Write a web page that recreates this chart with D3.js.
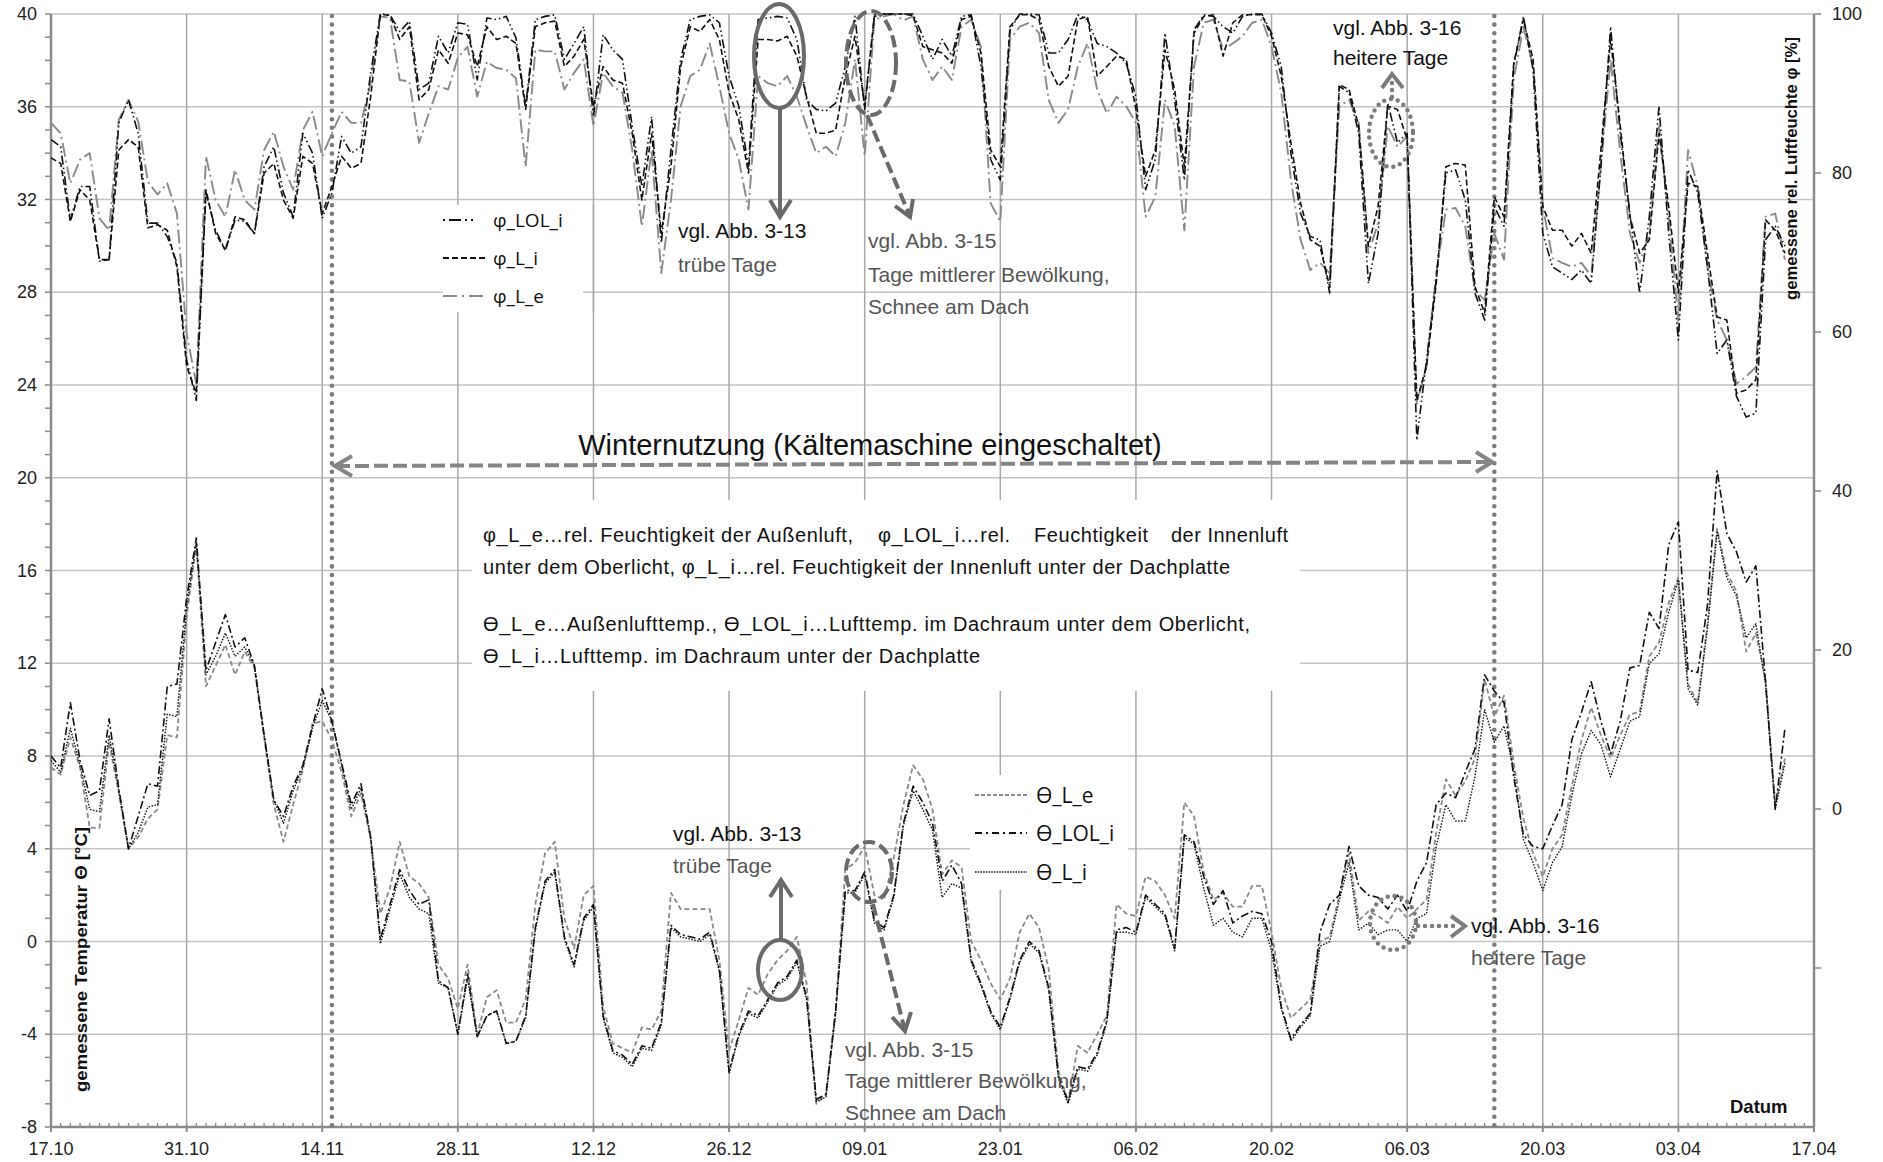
<!DOCTYPE html>
<html><head><meta charset="utf-8">
<script src="https://cdn.jsdelivr.net/npm/d3@7"></script>
<style>
html,body{margin:0;padding:0;background:#fff;}
svg{display:block;font-family:"Liberation Sans",Arial,sans-serif;}
</style></head><body>
<svg id="chart" width="1883" height="1162"></svg>
<script>
// ---------- DATA ----------
const startDate = Date.UTC(2010, 9, 17);   // 17.10
const endDate = Date.UTC(2011, 3, 17);     // 17.04
const xTickLabels = ["17.10","31.10","14.11","28.11","12.12","26.12","09.01","23.01","06.02","20.02","06.03","20.03","03.04","17.04"];
const leftTicks = [-8,-4,0,4,8,12,16,20,24,28,32,36,40];
const rightTicks = [0,20,40,60,80,100];

// Temperatures [°C], one value per day from 17.10
const tLOL = [8.0,7.5,10.3,7.8,6.3,6.5,9.6,6.6,4.0,5.4,6.8,6.7,11.0,11.1,14.8,17.4,11.7,12.9,14.1,12.7,
13.1,11.9,8.9,6.1,5.4,6.7,7.6,9.3,10.9,9.5,7.7,5.9,6.8,4.5,0.1,1.6,3.1,2.2,1.6,1.8,
-1.7,-2.0,-4.0,-1.4,-4.1,-3.2,-3.0,-4.4,-4.3,-3.2,0.6,2.6,3.1,0.2,-1.0,1.0,1.6,-3.2,-4.7,-4.9,
-5.3,-4.5,-4.6,-3.5,0.7,0.3,0.2,0.1,0.4,-1.2,-5.6,-4.0,-3.0,-3.2,-2.5,-1.8,-1.5,-0.8,-2.4,-6.8,
-6.6,-3.0,2.2,2.2,3.0,0.9,0.6,2.0,5.1,6.7,6.0,5.1,2.6,3.3,2.5,-0.8,-1.8,-3.0,-3.7,-2.4,
-0.8,0.0,-0.4,-2.0,-5.8,-6.9,-5.4,-5.5,-4.8,-3.4,0.5,0.6,0.4,2.0,1.6,1.2,-0.3,4.6,4.3,2.8,
1.6,2.2,0.8,1.1,1.3,1.2,0.0,-2.8,-4.2,-3.6,-3.1,0.4,1.6,2.0,4.1,2.4,2.0,1.9,1.4,2.0,
1.3,2.6,3.4,5.9,6.4,6.2,7.3,8.3,11.5,10.8,10.3,7.1,4.6,4.1,4.0,5.0,5.9,8.7,9.9,11.2,
9.5,8.1,9.5,11.8,11.9,14.2,13.5,17.1,18.1,11.7,11.6,14.5,20.3,17.6,16.8,15.5,16.2,11.2,5.7,9.2];
const tLi = [7.8,7.3,9.2,7.6,5.7,5.6,8.9,6.5,4.0,4.7,5.8,5.9,9.8,9.7,14.4,17.2,11.5,12.3,13.3,12.3,
12.7,11.9,8.9,6.1,5.1,6.5,7.5,9.2,10.4,9.5,7.6,5.7,6.6,4.5,-0.1,1.4,2.9,1.9,1.4,1.2,
-1.8,-2.0,-4.0,-1.6,-4.1,-3.2,-3.0,-4.4,-4.3,-3.3,0.5,2.5,3.0,0.1,-1.1,0.9,1.5,-3.3,-4.8,-5.0,
-5.4,-4.6,-4.7,-3.6,0.6,0.2,0.1,0.0,0.3,-1.3,-5.7,-4.1,-3.1,-3.3,-2.6,-1.9,-1.6,-0.9,-2.5,-6.9,
-6.7,-3.1,2.1,2.1,2.9,0.8,0.5,1.9,5.0,6.5,5.7,4.8,1.9,2.5,2.3,-0.9,-1.9,-3.1,-3.8,-2.5,
-0.9,-0.1,-0.5,-2.1,-5.9,-7.0,-5.5,-5.6,-4.9,-3.5,0.4,0.4,0.3,1.9,1.5,1.1,-0.4,4.5,4.2,2.3,
0.7,1.0,0.4,0.2,1.0,1.0,-0.4,-2.9,-4.3,-3.7,-3.2,-0.2,0.0,1.8,3.4,0.5,0.8,0.3,0.5,0.5,
0.0,1.0,1.2,4.1,5.9,5.2,5.2,7.1,10.0,8.6,9.3,7.4,4.4,3.4,2.2,3.4,4.1,6.3,8.1,9.1,
8.5,7.1,8.3,9.5,9.7,12.0,12.4,14.2,15.6,10.9,10.2,13.5,17.7,15.7,14.9,13.1,13.7,11.1,5.7,7.7];
const tLe = [7.5,7.2,8.8,7.5,4.9,4.9,8.6,6.4,4.0,4.5,5.3,5.7,8.9,8.8,14.0,17.1,11.0,11.9,12.8,11.5,
12.5,11.8,8.8,5.9,4.3,5.9,7.4,9.4,9.5,8.7,7.3,5.4,6.4,4.4,1.2,2.3,4.3,2.8,2.5,1.9,
-1.0,-1.6,-2.9,-1.0,-4.0,-2.4,-2.1,-3.5,-3.5,-2.5,1.6,3.8,4.3,1.0,-0.3,2.0,2.4,-2.8,-4.4,-4.6,
-4.8,-3.7,-3.8,-3.0,2.1,1.4,1.4,1.4,1.4,-0.8,-4.7,-3.4,-2.0,-2.3,-1.4,-0.8,-0.4,0.2,-1.8,-7.0,
-6.6,-3.0,3.1,3.4,4.1,2.0,1.8,3.6,5.9,7.6,7.0,5.7,2.9,3.5,3.2,0.0,-0.8,-1.8,-2.5,-1.6,
0.4,1.2,0.6,-1.2,-5.6,-6.9,-4.5,-4.8,-4.0,-3.2,1.6,1.2,1.1,2.8,2.6,2.0,1.0,6.0,5.4,3.0,
1.8,2.1,1.5,1.5,2.4,2.4,0.4,-2.0,-3.3,-2.9,-2.5,0.0,0.2,2.0,3.8,0.9,1.3,1.1,0.8,1.5,
1.0,1.4,1.8,4.7,7.0,6.3,6.9,7.9,11.3,9.7,10.6,7.7,5.3,3.8,2.8,4.0,4.6,6.7,8.7,10.1,
8.9,7.9,8.9,9.8,9.9,12.3,12.9,14.6,15.7,11.1,10.3,13.7,17.8,15.9,15.1,12.5,13.3,11.3,5.9,7.9];

// Relative humidity [%], one value per day from 17.10
const hLOL = [84.2,83.3,74.1,78.3,78.3,68.9,69.1,86.3,89.2,85.0,73.7,73.7,72.0,68.7,56.5,51.4,77.5,72.8,70.3,74.1,
73.9,72.4,80.8,83.3,77.5,74.5,85.0,82.5,74.3,77.5,84.6,82.5,83.3,92.6,100,99.9,97.8,99.1,90.5,91.3,
97.2,95.1,98.9,98.7,91.7,99.5,99.3,99.7,97.0,88.4,99.3,99.7,99.9,94.3,96.3,98.4,87.1,97.4,95.5,94.3,
85.9,78.3,87.1,71.2,82.9,94.3,99.3,99.7,99.9,98.9,92.2,88.4,80.8,99.3,99.5,99.7,99.5,96.8,89.2,88.0,
87.8,88.8,93.4,99.7,88.0,99.9,100,100,100,100,97.2,94.3,96.8,94.7,99.7,99.9,93.4,81.7,79.1,98.0,
100,100,99.9,95.1,95.1,96.8,99.9,99.3,96.3,95.9,95.1,93.8,89.6,77.9,81.7,97.6,89.2,79.1,98.0,99.9,
99.7,98.4,97.6,99.7,100,100,97.6,93.4,82.5,74.9,72.0,71.6,64.9,90.9,90.1,85.0,66.1,72.4,88.8,83.8,
85.0,46.4,56.5,66.6,80.0,80.4,76.6,64.9,61.5,75.8,73.3,93.4,99.7,93.0,72.4,68.2,67.4,66.6,67.8,66.1,
80.8,98.4,85.0,74.9,64.9,74.5,88.4,72.4,59.0,80.4,77.5,68.2,57.3,59.0,51.9,49.3,49.8,71.6,73.3,70.8];
const hLi = [81.9,81.2,73.9,77.9,76.6,69.1,69.1,82.9,84.2,83.3,73.1,73.5,72.8,68.2,55.7,52.3,77.9,72.4,70.3,74.5,
74.1,72.4,80.0,81.2,76.6,74.3,82.1,81.2,74.9,78.3,82.1,80.6,81.2,89.6,100,99.8,96.8,98.4,89.2,90.5,
95.5,93.8,97.6,97.4,93.4,98.4,96.8,97.2,96.3,88.0,98.4,98.9,99.1,93.4,94.7,96.8,88.4,93.4,91.7,91.3,
85.0,76.6,85.0,72.4,80.8,93.4,98.4,97.8,99.3,96.8,90.1,86.7,80.0,96.8,96.8,96.6,97.2,94.7,89.6,85.0,
85.0,85.4,92.2,97.2,88.4,99.7,100,100,100,99.8,95.9,95.5,95.1,93.8,99.3,99.7,95.1,82.9,80.8,98.4,
99.9,99.9,99.3,93.4,90.9,92.2,99.3,99.7,92.2,93.4,94.7,94.3,88.0,79.6,82.9,95.5,90.5,80.8,97.6,99.7,
99.9,94.7,98.9,99.9,99.9,99.9,97.2,92.2,83.8,76.2,71.6,70.8,65.7,91.1,90.5,85.9,70.8,75.8,88.4,88.0,
84.2,51.4,55.7,66.1,80.8,81.2,81.0,65.7,62.4,77.0,74.5,93.8,99.3,94.3,75.8,72.8,72.8,70.8,72.4,69.9,
82.9,96.8,85.9,74.5,69.9,71.6,85.0,75.8,64.9,78.7,78.3,69.9,61.9,61.5,52.3,52.7,54.0,74.1,72.8,69.9];
const hLe = [86.3,85.0,78.7,81.7,82.5,74.3,72.8,86.7,89.2,86.5,78.9,77.3,78.7,74.9,59.8,53.5,82.1,76.6,74.5,80.4,
76.6,75.4,82.9,85.2,80.8,77.9,85.4,87.7,82.1,85.0,87.7,86.3,86.3,91.3,99.7,99.5,91.7,91.5,83.8,87.5,
90.9,90.5,94.5,95.9,89.6,94.0,93.2,93.0,91.9,80.8,95.5,95.3,95.3,90.5,92.6,94.3,85.9,92.6,90.9,90.1,
82.9,73.3,82.9,67.4,76.6,88.4,92.2,93.0,96.3,90.9,85.0,81.7,75.4,92.2,91.3,90.9,92.2,89.6,85.9,82.5,
83.3,82.1,86.3,94.3,82.1,99.3,99.7,100,99.2,99.7,94.3,91.7,93.4,91.7,98.4,99.3,95.9,76.2,73.9,96.8,
98.4,98.9,97.6,89.2,86.3,88.0,93.4,96.3,90.5,87.5,89.6,88.4,86.3,74.5,77.0,89.2,85.9,72.8,93.4,98.9,
99.3,95.5,96.3,97.2,98.9,99.3,95.9,90.1,79.1,71.6,67.8,68.7,67.4,88.4,89.2,86.3,69.9,73.7,85.9,83.3,
84.6,51.0,55.7,67.4,75.4,75.6,73.3,65.3,64.0,72.4,69.1,91.7,98.4,93.4,75.8,69.3,68.7,68.2,68.7,67.0,
80.8,94.3,82.5,72.4,68.7,72.4,85.9,74.5,61.5,82.9,78.3,68.2,61.5,59.0,53.5,54.4,55.6,74.5,74.9,69.1];

// ---------- LAYOUT ----------
const L = 51, R = 1814, T = 14, B = 1127;
const svg = d3.select("#chart");
const dayMs = 86400000;
const x = d3.scaleUtc().domain([new Date(startDate), new Date(endDate)]).range([L, R]);
const yT = d3.scaleLinear().domain([-8, 40]).range([B, T]);
const yH = d3.scaleLinear().domain([-40, 100]).range([B, T]);
const dateOf = i => new Date(startDate + i * dayMs);
const majorDates = xTickLabels.map((s, i) => new Date(startDate + i * 14 * dayMs));

// grid
const grid = svg.append("g");
grid.selectAll("line.h").data(leftTicks.filter(v => v > -8)).join("line")
  .attr("x1", L).attr("x2", R).attr("y1", d => yT(d)).attr("y2", d => yT(d))
  .attr("stroke", "#c4c4c4").attr("stroke-width", 1.3);
grid.selectAll("line.v").data(majorDates.slice(1, -1)).join("line")
  .attr("x1", d => x(d)).attr("x2", d => x(d)).attr("y1", T).attr("y2", B)
  .attr("stroke", "#a8a8a8").attr("stroke-width", 1.5);

// white boxes (text block, legends)
svg.append("rect").attr("x", 472).attr("y", 500).attr("width", 828).attr("height", 191).attr("fill", "#fff");
svg.append("rect").attr("x", 443).attr("y", 205).attr("width", 140).attr("height", 107).attr("fill", "#fff");
svg.append("rect").attr("x", 970).attr("y", 775).attr("width", 158).attr("height", 115).attr("fill", "#fff");
svg.append("line").attr("x1", x(majorDates[4])).attr("x2", x(majorDates[4])).attr("y1", 205).attr("y2", 312)
  .attr("stroke", "#a8a8a8").attr("stroke-width", 1.5);

// axes
const axCol = "#8a8a8a";
const ax = svg.append("g");
ax.append("line").attr("x1", L).attr("x2", L).attr("y1", T).attr("y2", B).attr("stroke", axCol).attr("stroke-width", 2.5);
ax.append("line").attr("x1", R).attr("x2", R).attr("y1", T).attr("y2", B).attr("stroke", axCol).attr("stroke-width", 2.5);
ax.append("line").attr("x1", L).attr("x2", R).attr("y1", B).attr("y2", B).attr("stroke", axCol).attr("stroke-width", 2.5);
ax.selectAll("line.lt").data(d3.range(-8, 41, 1)).join("line")
  .attr("x1", L - 6).attr("x2", L).attr("y1", d => yT(d)).attr("y2", d => yT(d))
  .attr("stroke", axCol).attr("stroke-width", 1.5);
ax.selectAll("text.ll").data(leftTicks).join("text")
  .attr("x", 37).attr("y", d => yT(d) + 6).attr("text-anchor", "end")
  .attr("font-size", 18).attr("fill", "#222").text(d => d);
ax.selectAll("line.bt").data(d3.range(0, 183)).join("line")
  .attr("x1", d => x(dateOf(d))).attr("x2", d => x(dateOf(d))).attr("y1", B - 4).attr("y2", B)
  .attr("stroke", axCol).attr("stroke-width", 1.3);
ax.selectAll("line.bm").data(majorDates).join("line")
  .attr("x1", d => x(d)).attr("x2", d => x(d)).attr("y1", B).attr("y2", B + 5)
  .attr("stroke", axCol).attr("stroke-width", 2);
ax.selectAll("text.bl").data(majorDates).join("text")
  .attr("x", d => x(d)).attr("y", 1155).attr("text-anchor", "middle")
  .attr("font-size", 18).attr("fill", "#222").text((d, i) => xTickLabels[i]);
ax.selectAll("line.rt").data([-20, 0, 20, 40, 60, 80, 100]).join("line")
  .attr("x1", R).attr("x2", R + 7).attr("y1", d => yH(d)).attr("y2", d => yH(d))
  .attr("stroke", axCol).attr("stroke-width", 1.5);
ax.selectAll("text.rl").data(rightTicks).join("text")
  .attr("x", 1832).attr("y", d => yH(d) + 6).attr("text-anchor", "start")
  .attr("font-size", 18).attr("fill", "#222").text(d => d);

// axis titles
svg.append("text").attr("transform", "translate(87,1092) rotate(-90)")
  .attr("font-size", 17).attr("font-weight", "bold").attr("fill", "#111")
  .attr("textLength", 265).attr("lengthAdjust", "spacingAndGlyphs")
  .text("gemessene Temperatur Θ [°C]");
svg.append("text").attr("transform", "translate(1797,300) rotate(-90)")
  .attr("font-size", 17).attr("font-weight", "bold").attr("fill", "#111")
  .attr("textLength", 263).attr("lengthAdjust", "spacingAndGlyphs")
  .text("gemessene rel. Luftfeuchte φ [%]");
svg.append("text").attr("x", 1730).attr("y", 1113).attr("font-size", 18.5).attr("font-weight", "bold")
  .attr("fill", "#111").text("Datum");

svg.append("clipPath").attr("id", "plotclip").append("rect")
  .attr("x", L).attr("y", T - 1).attr("width", R - L).attr("height", B - T + 1);

// vertical dotted markers
const annCol = "#858585";
[29, 149].forEach(d => {
  svg.append("line").attr("x1", x(dateOf(d))).attr("x2", x(dateOf(d))).attr("y1", T + 2).attr("y2", B)
    .attr("stroke", "#7c7c7c").attr("stroke-width", 4.6).attr("stroke-linecap", "round")
    .attr("stroke-dasharray", "0,8.6");
});

// series
const series = [
  {v: tLe, y: yT, col: "#8a8a8a", w: 1.8, dash: "5,3"},
  {v: tLi, y: yT, col: "#111", w: 1.4, dash: "1.5,1.5"},
  {v: tLOL, y: yT, col: "#111", w: 1.6, dash: "8,3,2,3"},
  {v: hLe, y: yH, col: "#8a8a8a", w: 1.9, dash: "14,4,2,4"},
  {v: hLi, y: yH, col: "#111", w: 1.6, dash: "6,3"},
  {v: hLOL, y: yH, col: "#111", w: 1.6, dash: "9,3,1.5,3,1.5,3"}
];
const lg = svg.append("g").attr("clip-path", "url(#plotclip)");
series.forEach(s => {
  const line = d3.line().x((d, i) => x(dateOf(i))).y(d => s.y(d));
  lg.append("path").datum(s.v).attr("d", line).attr("fill", "none")
    .attr("stroke", s.col).attr("stroke-width", s.w).attr("stroke-dasharray", s.dash)
    .attr("stroke-linejoin", "round");
});

// winter arrow
const wa = svg.append("g").attr("stroke", annCol).attr("fill", "none");
wa.append("line").attr("x1", 336).attr("y1", 466).attr("x2", 1490).attr("y2", 462)
  .attr("stroke-width", 4).attr("stroke-dasharray", "14,5");
wa.append("path").attr("d", "M352,456 L335,466 L352,476").attr("stroke-width", 4);
wa.append("path").attr("d", "M1476,452 L1492,462 L1476,472").attr("stroke-width", 4);
svg.append("text").attr("x", 870).attr("y", 455).attr("text-anchor", "middle")
  .attr("font-size", 29).attr("fill", "#111").text("Winternutzung (Kältemaschine eingeschaltet)");

// legends
const legTop = [
  {label: "φ_LOL_i", col: "#111", w: 1.8, dash: "2,4,12,4,2,4,2,20", y: 220},
  {label: "φ_L_i", col: "#111", w: 1.8, dash: "6,3", y: 258},
  {label: "φ_L_e", col: "#8a8a8a", w: 2, dash: "14,5,2,5", y: 296}
];
legTop.forEach(l => {
  svg.append("line").attr("x1", 443).attr("x2", 485).attr("y1", l.y).attr("y2", l.y)
    .attr("stroke", l.col).attr("stroke-width", l.w).attr("stroke-dasharray", l.dash);
  svg.append("text").attr("x", 493).attr("y", l.y + 7).attr("font-size", 19)
    .attr("font-family", "'Open Sans',sans-serif").attr("fill", "#111").text(l.label);
});
const legBot = [
  {label: "Ө_L_e", col: "#8a8a8a", w: 1.8, dash: "4,2", y: 795},
  {label: "Ө_LOL_i", col: "#111", w: 1.8, dash: "7,4,2,4", y: 833},
  {label: "Ө_L_i", col: "#111", w: 1.4, dash: "1.5,1.2", y: 872}
];
legBot.forEach(l => {
  svg.append("line").attr("x1", 975).attr("x2", 1027).attr("y1", l.y).attr("y2", l.y)
    .attr("stroke", l.col).attr("stroke-width", l.w).attr("stroke-dasharray", l.dash);
  svg.append("text").attr("x", 1036).attr("y", l.y + 8).attr("font-size", 21)
    .attr("font-family", "'Open Sans',sans-serif").attr("fill", "#111").text(l.label);
});

// description text
const desc = [
  {t: "φ_L_e…rel. Feuchtigkeit der Außenluft,", x: 483, y: 542, w: 370},
  {t: "φ_LOL_i…rel.", x: 878, y: 542, w: 132},
  {t: "Feuchtigkeit", x: 1034, y: 542, w: 114},
  {t: "der Innenluft", x: 1171, y: 542, w: 117},
  {t: "unter dem Oberlicht, φ_L_i…rel. Feuchtigkeit der Innenluft unter der Dachplatte", x: 483, y: 574, w: 747},
  {t: "Ө_L_e…Außenlufttemp., Ө_LOL_i…Lufttemp. im Dachraum unter dem Oberlicht,", x: 483, y: 631, w: 767},
  {t: "Ө_L_i…Lufttemp. im Dachraum unter der Dachplatte", x: 483, y: 663, w: 497}
];
desc.forEach(d => svg.append("text").attr("x", d.x).attr("y", d.y).attr("font-size", 20)
  .attr("fill", "#111").attr("textLength", d.w).attr("lengthAdjust", "spacing").text(d.t));

// annotations
const an = svg.append("g").attr("fill", "none").attr("stroke", "#6a6a6a").attr("stroke-width", 4);
function txt(s, xx, yy, col) {
  svg.append("text").attr("x", xx).attr("y", yy).attr("font-size", 21).attr("fill", col).text(s);
}
an.append("ellipse").attr("cx", 779).attr("cy", 56).attr("rx", 25).attr("ry", 52);
an.append("line").attr("x1", 780).attr("y1", 108).attr("x2", 780).attr("y2", 216);
an.append("path").attr("d", "M770,200 L780,217 L791,200");
txt("vgl. Abb. 3-13", 678, 238, "#111");
txt("trübe Tage", 678, 272, "#555");
an.append("ellipse").attr("cx", 871).attr("cy", 63).attr("rx", 25).attr("ry", 52).attr("stroke-dasharray", "12,5");
an.append("line").attr("x1", 867).attr("y1", 115).attr("x2", 909).attr("y2", 214).attr("stroke-dasharray", "12,5");
an.append("path").attr("d", "M895,206 L910,217 L913,199");
txt("vgl. Abb. 3-15", 868, 248, "#555");
txt("Tage mittlerer Bewölkung,", 868, 282, "#555");
txt("Schnee am Dach", 868, 314, "#555");
an.append("ellipse").attr("cx", 1391).attr("cy", 133).attr("rx", 22).attr("ry", 34)
  .attr("stroke-dasharray", "0,7").attr("stroke-linecap", "round").attr("stroke", "#7c7c7c").attr("stroke-width", 4.5);
an.append("line").attr("x1", 1392).attr("y1", 97).attr("x2", 1392).attr("y2", 76)
  .attr("stroke-dasharray", "0,7").attr("stroke-linecap", "round").attr("stroke", "#7c7c7c").attr("stroke-width", 4.5);
an.append("path").attr("d", "M1382,88 L1392,74 L1403,88").attr("stroke", "#7c7c7c");
txt("vgl. Abb. 3-16", 1333, 35, "#111");
txt("heitere Tage", 1333, 65, "#111");

an.append("ellipse").attr("cx", 780).attr("cy", 970).attr("rx", 22).attr("ry", 30);
an.append("line").attr("x1", 781).attr("y1", 940).attr("x2", 781).attr("y2", 882);
an.append("path").attr("d", "M770,897 L781,880 L792,897");
txt("vgl. Abb. 3-13", 673, 841, "#111");
txt("trübe Tage", 673, 873, "#555");
an.append("ellipse").attr("cx", 869).attr("cy", 872).attr("rx", 23).attr("ry", 30).attr("stroke-dasharray", "12,5");
an.append("line").attr("x1", 873).attr("y1", 904).attr("x2", 904).attr("y2", 1027).attr("stroke-dasharray", "12,5");
an.append("path").attr("d", "M892,1017 L905,1031 L911,1012");
txt("vgl. Abb. 3-15", 845, 1057, "#555");
txt("Tage mittlerer Bewölkung,", 845, 1088, "#555");
txt("Schnee am Dach", 845, 1120, "#555");
an.append("ellipse").attr("cx", 1393).attr("cy", 923).attr("rx", 23).attr("ry", 27)
  .attr("stroke-dasharray", "0,7").attr("stroke-linecap", "round").attr("stroke", "#7c7c7c").attr("stroke-width", 4.5);
an.append("line").attr("x1", 1418).attr("y1", 926).attr("x2", 1460).attr("y2", 926)
  .attr("stroke-dasharray", "0,7").attr("stroke-linecap", "round").attr("stroke", "#7c7c7c").attr("stroke-width", 4.5);
an.append("path").attr("d", "M1451,916 L1465,926 L1451,937").attr("stroke", "#7c7c7c");
txt("vgl. Abb. 3-16", 1471, 933, "#111");
txt("heitere Tage", 1471, 965, "#555");
</script>
</body></html>
